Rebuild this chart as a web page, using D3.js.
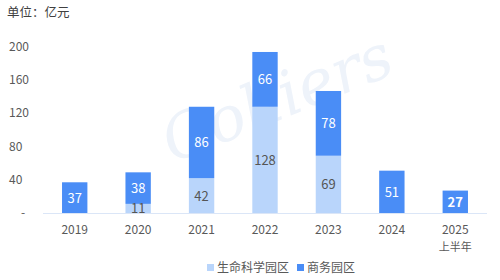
<!DOCTYPE html>
<html>
<head>
<meta charset="utf-8">
<script src="https://cdn.jsdelivr.net/npm/d3@7.9.0/dist/d3.min.js"></script>
<style>
  body { margin: 0; background: #fff; }
  text { font-family: "Noto Sans CJK SC", "Noto Sans", sans-serif; }
</style>
</head>
<body>
<div id="chart"></div>
<script>
const years = ["2019", "2020", "2021", "2022", "2023", "2024", "2025"];
const yearSub = ["", "", "", "", "", "", "上半年"];
const lifeScience = [0, 11, 42, 128, 69, 0, 0];
const business = [37, 38, 86, 66, 78, 51, 27];
const yTicks = [0, 40, 80, 120, 160, 200];
const seriesNames = ["生命科学园区", "商务园区"];

const width = 500;
const height = 280;
const lightBlue = "#b9d5fb";
const darkBlue = "#4a8df6";

const svg = d3.select("#chart")
  .append("svg")
  .attr("width", width)
  .attr("height", height);

// watermark
svg.append("text")
  .attr("transform", "translate(285,118) rotate(-22)")
  .attr("text-anchor", "middle")
  .style("font-family", "'DejaVu Serif', serif")
  .style("font-style", "italic")
  .style("font-size", "62px")
  .attr("fill", "#eef3fa")
  .text("Colliers");

const x = d3.scaleBand()
  .domain(years)
  .range([43, 487])
  .paddingInner(0.6)
  .paddingOuter(0.3);

const y = d3.scaleLinear()
  .domain([0, 200])
  .range([213, 47]);

svg.append("text")
  .attr("x", 7)
  .attr("y", 17)
  .attr("fill", "#404040")
  .style("font-size", "12.5px")
  .text("单位：亿元");

// y tick labels
svg.append("g")
  .selectAll("text")
  .data(yTicks)
  .join("text")
  .attr("x", d => d === 0 ? 21 : 9)
  .attr("y", d => y(d) + 4)
  .attr("text-anchor", "start")
  .attr("fill", "#595959")
  .style("font-size", "12px")
  .text(d => d === 0 ? "-" : d);

const stack = years.map((yr, i) => ({
  year: yr,
  life: lifeScience[i],
  biz: business[i]
}));

const bars = svg.append("g");

bars.selectAll("rect.life")
  .data(stack.filter(d => d.life > 0))
  .join("rect")
  .attr("class", "life")
  .attr("x", d => x(d.year))
  .attr("width", x.bandwidth())
  .attr("y", d => y(d.life))
  .attr("height", d => y(0) - y(d.life))
  .attr("fill", lightBlue);

bars.selectAll("rect.biz")
  .data(stack)
  .join("rect")
  .attr("class", "biz")
  .attr("x", d => x(d.year))
  .attr("width", x.bandwidth())
  .attr("y", d => y(d.life + d.biz))
  .attr("height", d => y(d.life) - y(d.life + d.biz))
  .attr("fill", darkBlue);

// baseline
svg.append("line")
  .attr("x1", 43).attr("x2", 487)
  .attr("y1", y(0) + 0.5).attr("y2", y(0) + 0.5)
  .attr("stroke", "#dbe6f7")
  .attr("stroke-width", 1.2);

// value labels
bars.selectAll("text.lifeLabel")
  .data(stack.filter(d => d.life > 0))
  .join("text")
  .attr("x", d => x(d.year) + x.bandwidth() / 2)
  .attr("y", d => (y(0) + y(d.life)) / 2 + 5)
  .attr("text-anchor", "middle")
  .attr("fill", "#555")
  .style("font-size", "13px")
  .text(d => d.life);

bars.selectAll("text.bizLabel")
  .data(stack)
  .join("text")
  .attr("x", d => x(d.year) + x.bandwidth() / 2)
  .attr("y", d => (y(d.life) + y(d.life + d.biz)) / 2 + 5)
  .attr("text-anchor", "middle")
  .attr("fill", "#fff")
  .style("font-size", "13px")
  .style("font-weight", d => d.year === "2025" ? "bold" : "normal")
  .text(d => d.biz);

// x labels
const xl = svg.append("g");
xl.selectAll("text.yr")
  .data(years)
  .join("text")
  .attr("x", d => x(d) + x.bandwidth() / 2)
  .attr("y", 234)
  .attr("text-anchor", "middle")
  .attr("fill", "#595959")
  .style("font-size", "12px")
  .text(d => d);

xl.selectAll("text.sub")
  .data(years.map((d, i) => ({ year: d, sub: yearSub[i] })).filter(d => d.sub))
  .join("text")
  .attr("x", d => x(d.year) + x.bandwidth() / 2)
  .attr("y", 251)
  .attr("text-anchor", "middle")
  .attr("fill", "#595959")
  .style("font-size", "11px")
  .text(d => d.sub);

// legend
const legendX = [207, 297];
const legendColors = [lightBlue, darkBlue];
const legend = svg.append("g");
seriesNames.forEach((name, i) => {
  legend.append("rect")
    .attr("x", legendX[i])
    .attr("y", 264)
    .attr("width", 7)
    .attr("height", 7)
    .attr("fill", legendColors[i]);
  legend.append("text")
    .attr("x", legendX[i] + 10)
    .attr("y", 272)
    .attr("fill", "#595959")
    .style("font-size", "12px")
    .text(name);
});
</script>
</body>
</html>
